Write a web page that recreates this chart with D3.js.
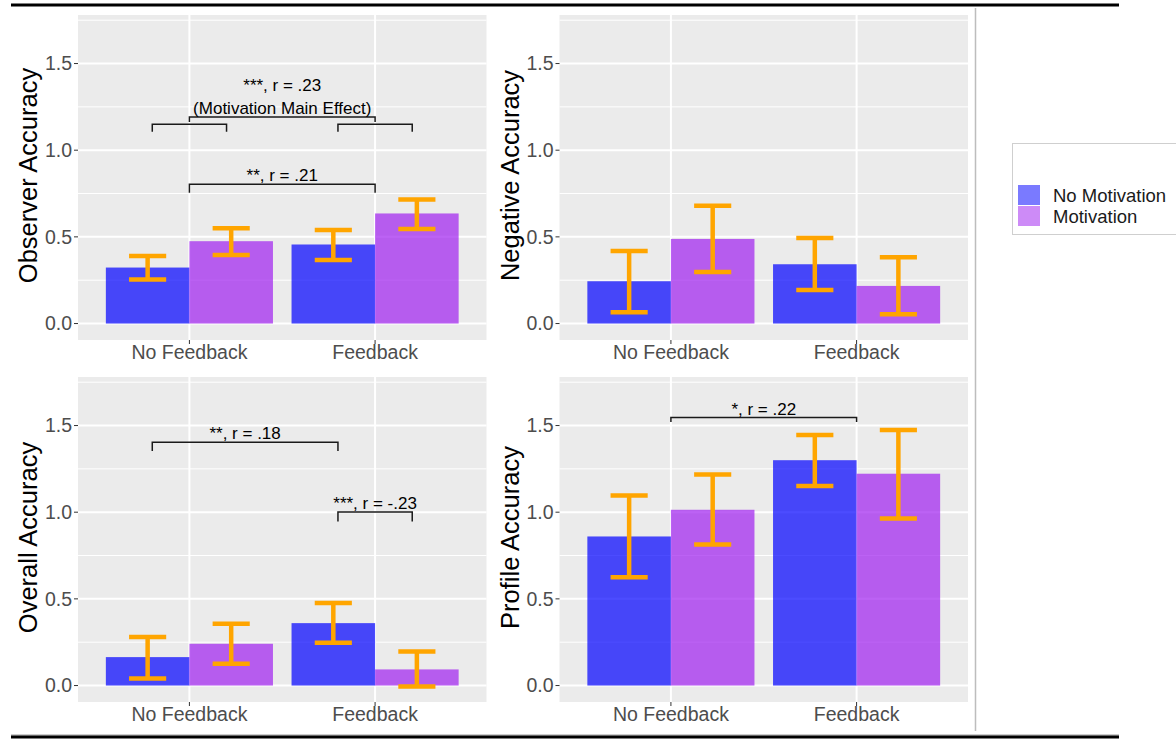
<!DOCTYPE html>
<html>
<head>
<meta charset="utf-8">
<script src="https://cdn.jsdelivr.net/npm/d3@7"></script>
<style>
body { margin: 0; background: #fff; }
svg { display: block; font-family: Arial, "Liberation Sans", sans-serif; }
</style>
</head>
<body>
<svg id="chart" width="1176" height="742"></svg>
<script>
// Categories and ticks
var groups = ["No Feedback", "Feedback"];
var series = ["No Motivation", "Motivation"];
var yTicks = [0, 0.5, 1.0, 1.5];
var yMinor = [0.25, 0.75, 1.25, 1.75];
var yTickLabels = ["0.0", "0.5", "1.0", "1.5"];

// Means and error bar limits, order: NF/NoMot, NF/Mot, F/NoMot, F/Mot
var observerMean = [0.323, 0.475, 0.456, 0.635];
var observerLow  = [0.254, 0.396, 0.367, 0.546];
var observerHigh = [0.390, 0.550, 0.540, 0.716];

var negativeMean = [0.244, 0.488, 0.342, 0.217];
var negativeLow  = [0.065, 0.298, 0.194, 0.054];
var negativeHigh = [0.419, 0.679, 0.494, 0.383];

var overallMean = [0.164, 0.241, 0.360, 0.093];
var overallLow  = [0.040, 0.125, 0.247, -0.006];
var overallHigh = [0.280, 0.357, 0.476, 0.197];

var profileMean = [0.860, 1.014, 1.300, 1.222];
var profileLow  = [0.625, 0.814, 1.151, 0.964];
var profileHigh = [1.096, 1.218, 1.445, 1.474];

// Significance brackets (x in category units: 1 = No Feedback, 2 = Feedback)
var observerSig = [
  { x1: 0.8, x2: 1.2, y: 1.150, tip: 1.106, labels: [] },
  { x1: 1.8, x2: 2.2, y: 1.150, tip: 1.106, labels: [] },
  { x1: 1, x2: 2, y: 1.192, tip: 1.163, labels: ["***, r = .23", "(Motivation Main Effect)"] },
  { x1: 1, x2: 2, y: 0.804, tip: 0.754, labels: ["**, r = .21"] }
];
var negativeSig = [];
var overallSig = [
  { x1: 0.8, x2: 1.8, y: 1.404, tip: 1.353, labels: ["**, r = .18"] },
  { x1: 1.8, x2: 2.2, y: 1.001, tip: 0.947, labels: ["***, r = -.23"] }
];
var profileSig = [
  { x1: 1, x2: 2, y: 1.546, tip: 1.520, labels: ["*, r = .22"] }
];

var barColors = ["#0000ff", "#a020f0"];
var svg = d3.select("#chart");

// Frame lines around the figure
svg.append("line").attr("x1", 11).attr("x2", 1119).attr("y1", 5).attr("y2", 5)
  .attr("stroke", "#000").attr("stroke-width", 3);
svg.append("line").attr("x1", 11).attr("x2", 1119).attr("y1", 735).attr("y2", 735)
  .attr("stroke", "#999").attr("stroke-width", 1);
svg.append("line").attr("x1", 11).attr("x2", 1119).attr("y1", 737).attr("y2", 737)
  .attr("stroke", "#000").attr("stroke-width", 3);
svg.append("line").attr("x1", 975.5).attr("x2", 975.5).attr("y1", 8).attr("y2", 731)
  .attr("stroke", "#bdbdbd").attr("stroke-width", 1.5);

var panels = [
  { title: "Observer Accuracy", mean: observerMean, low: observerLow, high: observerHigh, sig: observerSig, left: 78, top: 15 },
  { title: "Negative Accuracy", mean: negativeMean, low: negativeLow, high: negativeHigh, sig: negativeSig, left: 559.5, top: 15 },
  { title: "Overall Accuracy", mean: overallMean, low: overallLow, high: overallHigh, sig: overallSig, left: 78, top: 377 },
  { title: "Profile Accuracy", mean: profileMean, low: profileLow, high: profileHigh, sig: profileSig, left: 559.5, top: 377 }
];
var panelW = 408.5, panelH = 325;

panels.forEach(function(p) {
  var g = svg.append("g");
  var right = p.left + panelW, bottom = p.top + panelH;

  var y = d3.scaleLinear().domain([-0.095, 1.78]).range([bottom, p.top]);
  var x = d3.scaleBand().domain(groups).range([p.left, right])
    .paddingInner(0.1).paddingOuter(0.15);
  var xs = d3.scaleBand().domain(series).range([0, x.bandwidth()]);
  var xu = d3.scaleLinear().domain([0.4, 2.6]).range([p.left, right]);

  // panel background + grid
  g.append("rect").attr("x", p.left).attr("y", p.top)
    .attr("width", panelW).attr("height", panelH).attr("fill", "#ebebeb");
  g.selectAll(".minor").data(yMinor).enter().append("line")
    .attr("x1", p.left).attr("x2", right)
    .attr("y1", function(d) { return y(d); }).attr("y2", function(d) { return y(d); })
    .attr("stroke", "#fff").attr("stroke-width", 1);
  g.selectAll(".major").data(yTicks).enter().append("line")
    .attr("x1", p.left).attr("x2", right)
    .attr("y1", function(d) { return y(d); }).attr("y2", function(d) { return y(d); })
    .attr("stroke", "#fff").attr("stroke-width", 2);
  g.selectAll(".vmajor").data(groups).enter().append("line")
    .attr("x1", function(d) { return x(d) + x.bandwidth() / 2; })
    .attr("x2", function(d) { return x(d) + x.bandwidth() / 2; })
    .attr("y1", p.top).attr("y2", bottom)
    .attr("stroke", "#fff").attr("stroke-width", 2);

  // bars
  var rows = [];
  groups.forEach(function(gr, i) {
    series.forEach(function(s, j) {
      var k = i * 2 + j;
      rows.push({ group: gr, series: s, j: j, mean: p.mean[k], low: p.low[k], high: p.high[k] });
    });
  });
  g.selectAll(".bar").data(rows).enter().append("rect")
    .attr("x", function(d) { return x(d.group) + xs(d.series); })
    .attr("width", xs.bandwidth())
    .attr("y", function(d) { return y(d.mean); })
    .attr("height", function(d) { return y(0) - y(d.mean); })
    .attr("fill", function(d) { return barColors[d.j]; })
    .attr("fill-opacity", 0.7);

  // error bars (cap width 0.2 category units)
  var capHalf = xu(1.1) - xu(1);
  var eb = g.selectAll(".eb").data(rows).enter().append("g")
    .attr("stroke", "#ffa500").attr("stroke-width", 4.5).attr("fill", "none");
  eb.append("line")
    .attr("x1", function(d) { return x(d.group) + xs(d.series) + xs.bandwidth() / 2; })
    .attr("x2", function(d) { return x(d.group) + xs(d.series) + xs.bandwidth() / 2; })
    .attr("y1", function(d) { return y(d.low); }).attr("y2", function(d) { return y(d.high); });
  ["low", "high"].forEach(function(key) {
    eb.append("line")
      .attr("x1", function(d) { return x(d.group) + xs(d.series) + xs.bandwidth() / 2 - capHalf; })
      .attr("x2", function(d) { return x(d.group) + xs(d.series) + xs.bandwidth() / 2 + capHalf; })
      .attr("y1", function(d) { return y(d[key]); }).attr("y2", function(d) { return y(d[key]); });
  });

  // y axis
  g.selectAll(".ytick").data(yTicks).enter().append("line")
    .attr("x1", p.left - 4).attr("x2", p.left)
    .attr("y1", function(d) { return y(d); }).attr("y2", function(d) { return y(d); })
    .attr("stroke", "#333").attr("stroke-width", 1);
  g.selectAll(".ylab").data(yTicks).enter().append("text")
    .attr("x", p.left - 6).attr("y", function(d) { return y(d); })
    .attr("dy", "0.35em").attr("text-anchor", "end")
    .attr("font-size", "19.5px").attr("fill", "#4d4d4d")
    .text(function(d, i) { return yTickLabels[i]; });

  // x axis
  g.selectAll(".xtick").data(groups).enter().append("line")
    .attr("x1", function(d) { return x(d) + x.bandwidth() / 2; })
    .attr("x2", function(d) { return x(d) + x.bandwidth() / 2; })
    .attr("y1", bottom).attr("y2", bottom + 4)
    .attr("stroke", "#333").attr("stroke-width", 1);
  g.selectAll(".xlab").data(groups).enter().append("text")
    .attr("x", function(d) { return x(d) + x.bandwidth() / 2; })
    .attr("y", bottom + 19).attr("text-anchor", "middle")
    .attr("font-size", "19.5px").attr("fill", "#4d4d4d")
    .text(function(d) { return d; });

  // y title
  g.append("text")
    .attr("transform", "translate(" + (p.left - 41) + "," + (p.top + panelH / 2 - 2) + ") rotate(-90)")
    .attr("text-anchor", "middle").attr("font-size", "25.5px").attr("fill", "#000")
    .text(p.title);

  // significance brackets
  p.sig.forEach(function(b) {
    var path = d3.path();
    path.moveTo(xu(b.x1), y(b.tip));
    path.lineTo(xu(b.x1), y(b.y));
    path.lineTo(xu(b.x2), y(b.y));
    path.lineTo(xu(b.x2), y(b.tip));
    g.append("path").attr("d", path.toString())
      .attr("fill", "none").attr("stroke", "#1a1a1a").attr("stroke-width", 1.5);
    var n = b.labels.length;
    b.labels.forEach(function(t, i) {
      g.append("text")
        .attr("x", (xu(b.x1) + xu(b.x2)) / 2)
        .attr("y", y(b.y) - 3 - (n - 1 - i) * 23)
        .attr("text-anchor", "middle").attr("font-size", "17px").attr("fill", "#000")
        .text(t);
    });
  });
});

// Legend
var legend = svg.append("g");
legend.append("rect").attr("x", 1012.5).attr("y", 143.5).attr("width", 180).attr("height", 91)
  .attr("fill", "#fff").attr("stroke", "#cfcfcf").attr("stroke-width", 1);
var lg = legend.selectAll(".key").data(series).enter().append("g")
  .attr("transform", function(d, i) { return "translate(1018," + (185 + i * 21) + ")"; });
lg.append("rect").attr("width", 22).attr("height", 20)
  .attr("fill", function(d, i) { return barColors[i]; }).attr("fill-opacity", 0.52);
lg.append("text").attr("x", 35).attr("y", 11).attr("dy", "0.35em")
  .attr("font-size", "18.5px").attr("fill", "#1a1a1a")
  .text(function(d) { return d; });
</script>
</body>
</html>
